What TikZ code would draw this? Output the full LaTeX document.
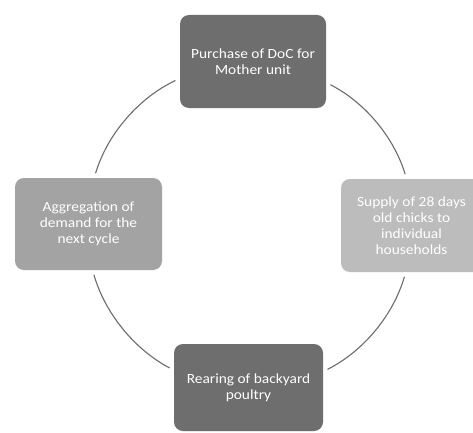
\documentclass[tikz,border=0pt]{standalone}
\usepackage{fontspec}
\setmainfont[FakeStretch=1.1]{Carlito}
\begin{document}
\begin{tikzpicture}[x=1pt,y=1pt,
  stagebox/.style={rounded corners=9pt, text=white, align=center,
    inner sep=0pt, outer sep=0pt,
    font=\fontsize{14}{16}\selectfont},
  darkstage/.style={stagebox, fill=stageDark},
  midstage/.style={stagebox, fill=stageMid},
  lightstage/.style={stagebox, fill=stageLight},
  cycleline/.style={draw=cycleGray, line width=1.1pt,
    shorten <=5pt, shorten >=5pt, looseness=0.89}]
\definecolor{stageDark}{HTML}{6E6E6E}
\definecolor{stageMid}{HTML}{A3A3A3}
\definecolor{stageLight}{HTML}{BCBCBC}
\definecolor{cycleGray}{HTML}{6C6C6C}
\useasboundingbox (0,0) rectangle (473,432);
\clip (0,0) rectangle (473,432);
\fill[white] (0,0) rectangle (473,432);

% the four stages of the cycle
\node[darkstage, minimum width=146pt, minimum height=93pt] (purchase) at (253,370.5)
  {Purchase of DoC for\\Mother unit};
\node[lightstage, minimum width=141pt, minimum height=93pt] (supply) at (411.5,206.5)
  {Supply of 28 days\\old chicks to\\individual\\households};
\node[darkstage, minimum width=149pt, minimum height=87pt] (rearing) at (248.5,44.5)
  {Rearing of backyard\\poultry};
\node[midstage, minimum width=147pt, minimum height=92pt] (aggregation) at (88.5,208)
  {Aggregation of\\demand for the\\next cycle};

% circular links between consecutive stages
\draw[cycleline] (aggregation.83) to[bend left=24] (purchase.193);
\draw[cycleline] (purchase.344.5) to[bend left=23] (supply.96.6);
\draw[cycleline] (supply.263.7) to[bend left=23.5] (rearing.12);
\draw[cycleline] (rearing.167) to[bend left=23] (aggregation.275.7);
\end{tikzpicture}
\end{document}
